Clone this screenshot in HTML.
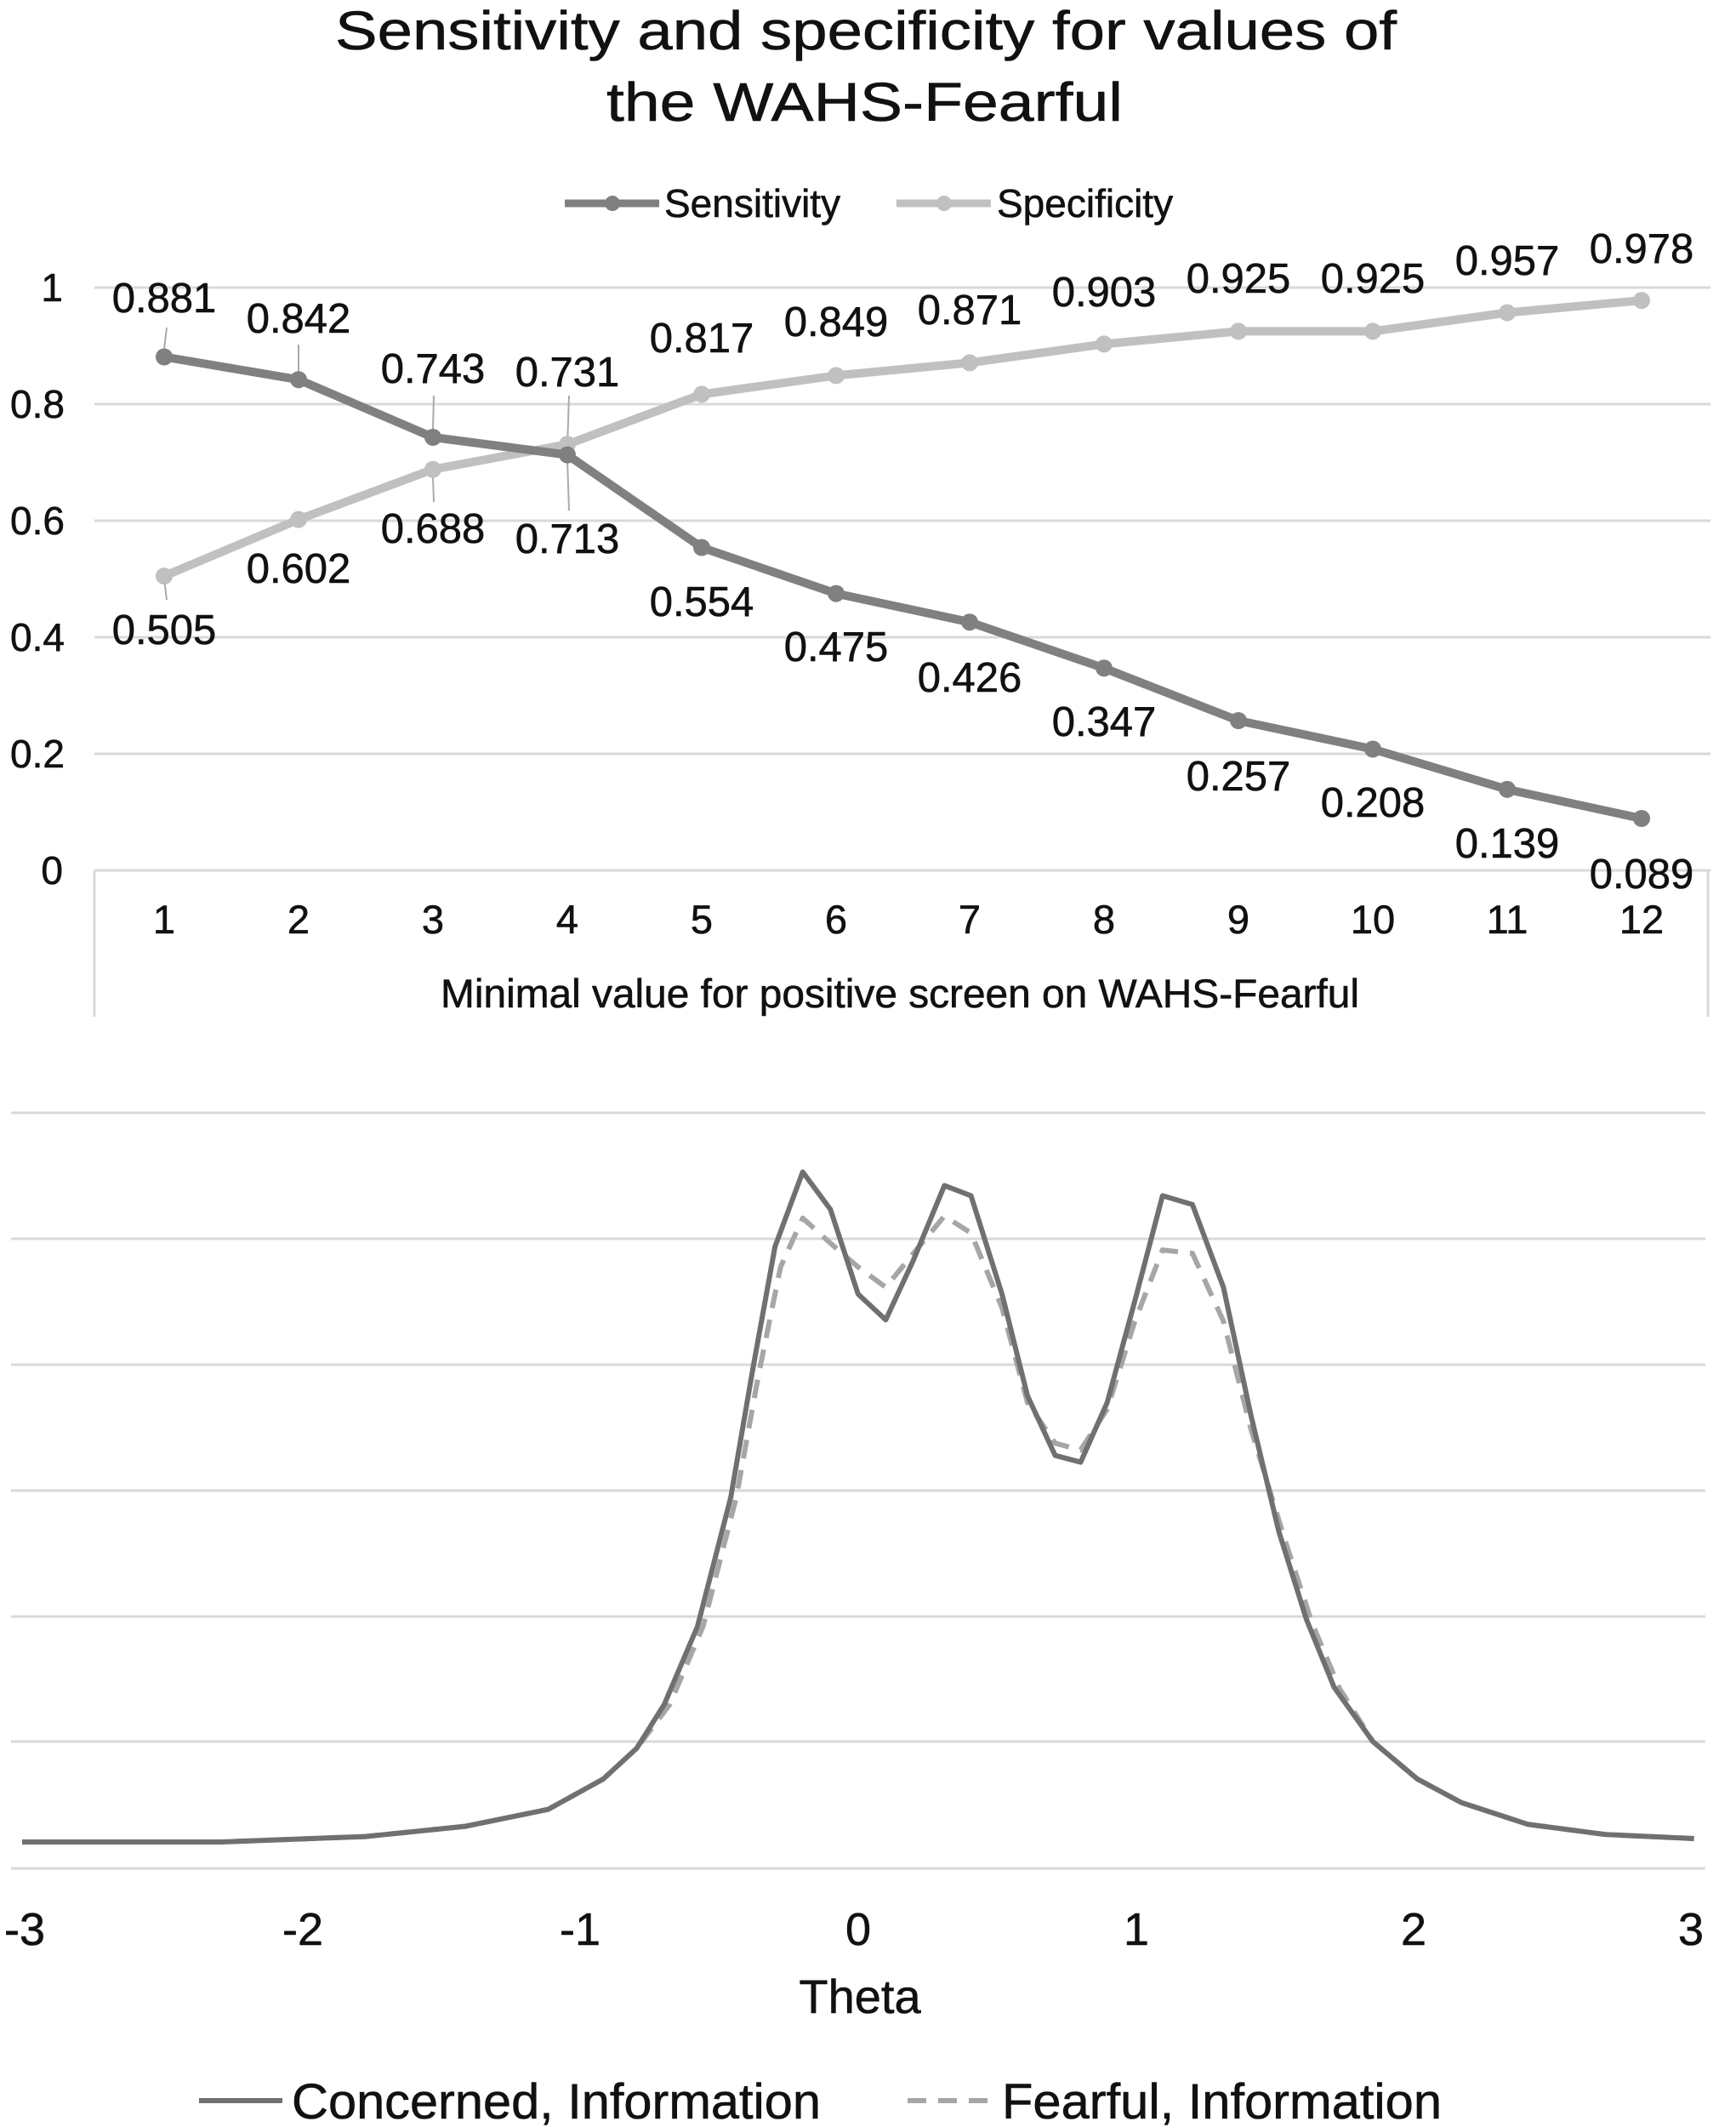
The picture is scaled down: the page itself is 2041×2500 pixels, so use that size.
<!DOCTYPE html>
<html><head><meta charset="utf-8"><style>
html,body{margin:0;padding:0;background:#fff}
svg{display:block}
text{font-family:"Liberation Sans",Arial,sans-serif;fill:#111;stroke:#111;stroke-width:0.6}
</style></head><body>
<svg width="2041" height="2500" viewBox="0 0 2041 2500" xmlns="http://www.w3.org/2000/svg">
<rect width="2041" height="2500" fill="#fff"/>
<text x="394" y="58" font-size="64" textLength="1248" lengthAdjust="spacingAndGlyphs">Sensitivity and specificity for values of</text>
<text x="713" y="142" font-size="64" textLength="607" lengthAdjust="spacingAndGlyphs">the WAHS-Fearful</text>
<line x1="664" y1="239" x2="775" y2="239" stroke="#808080" stroke-width="9"/>
<circle cx="720" cy="239" r="9" fill="#808080"/>
<text x="781" y="255" font-size="46">Sensitivity</text>
<line x1="1054" y1="239" x2="1165" y2="239" stroke="#c0c0c0" stroke-width="9"/>
<circle cx="1110" cy="239" r="9" fill="#c0c0c0"/>
<text x="1172" y="255" font-size="46">Specificity</text>
<g stroke="#d9d9d9" stroke-width="3">
<line x1="111" y1="338" x2="2011" y2="338"/>
<line x1="111" y1="475" x2="2011" y2="475"/>
<line x1="111" y1="612" x2="2011" y2="612"/>
<line x1="111" y1="749" x2="2011" y2="749"/>
<line x1="111" y1="886" x2="2011" y2="886"/>
<line x1="111" y1="1023" x2="2011" y2="1023"/>
<line x1="111" y1="1023" x2="111" y2="1195"/>
<line x1="2008" y1="1023" x2="2008" y2="1195"/>
</g>
<g font-size="46" text-anchor="end">
<text x="74" y="354">1</text><text x="76" y="491">0.8</text><text x="76" y="628">0.6</text>
<text x="76" y="765">0.4</text><text x="76" y="902">0.2</text><text x="74" y="1039">0</text>
</g>
<g font-size="47" text-anchor="middle">
<text x="193" y="1097">1</text><text x="351" y="1097">2</text><text x="509" y="1097">3</text><text x="667" y="1097">4</text>
<text x="825" y="1097">5</text><text x="983" y="1097">6</text><text x="1140" y="1097">7</text><text x="1298" y="1097">8</text>
<text x="1456" y="1097">9</text><text x="1614" y="1097">10</text><text x="1772" y="1097">11</text><text x="1930" y="1097">12</text>
</g>
<text x="518" y="1184" font-size="47" textLength="1080" lengthAdjust="spacingAndGlyphs">Minimal value for positive screen on WAHS-Fearful</text>
<g stroke="#aaa" stroke-width="2">
<line x1="196" y1="385" x2="193" y2="410"/><line x1="351" y1="405" x2="351" y2="438"/>
<line x1="510" y1="465" x2="509" y2="505"/><line x1="669" y1="465" x2="667" y2="525"/>
<line x1="196" y1="705" x2="193" y2="680"/><line x1="510" y1="590" x2="509" y2="560"/>
<line x1="669" y1="600" x2="667" y2="540"/>
</g>
<polyline fill="none" stroke="#c0c0c0" stroke-width="10" stroke-linejoin="round" points="193,677.1 351,610.6 509,551.7 667,522.3 825,463.4 983,441.4 1140,426.4 1298,404.4 1456,389.4 1614,389.4 1772,367.5 1930,353.1"/>
<g fill="#c0c0c0">
<circle cx="193" cy="677.1" r="10"/><circle cx="351" cy="610.6" r="10"/><circle cx="509" cy="551.7" r="10"/><circle cx="667" cy="522.3" r="10"/><circle cx="825" cy="463.4" r="10"/><circle cx="983" cy="441.4" r="10"/><circle cx="1140" cy="426.4" r="10"/><circle cx="1298" cy="404.4" r="10"/><circle cx="1456" cy="389.4" r="10"/><circle cx="1614" cy="389.4" r="10"/><circle cx="1772" cy="367.5" r="10"/><circle cx="1930" cy="353.1" r="10"/>
</g>
<polyline fill="none" stroke="#808080" stroke-width="10" stroke-linejoin="round" points="193,419.5 351,446.2 509,514 667,534.6 825,643.5 983,697.6 1140,731.2 1298,785.3 1456,847 1614,880.5 1772,927.8 1930,962"/>
<g fill="#808080">
<circle cx="193" cy="419.5" r="10"/><circle cx="351" cy="446.2" r="10"/><circle cx="509" cy="514" r="10"/><circle cx="667" cy="534.6" r="10"/><circle cx="825" cy="643.5" r="10"/><circle cx="983" cy="697.6" r="10"/><circle cx="1140" cy="731.2" r="10"/><circle cx="1298" cy="785.3" r="10"/><circle cx="1456" cy="847" r="10"/><circle cx="1614" cy="880.5" r="10"/><circle cx="1772" cy="927.8" r="10"/><circle cx="1930" cy="962" r="10"/>
</g>
<g font-size="49" text-anchor="middle" dominant-baseline="central">
<text x="193" y="351">0.881</text><text x="351" y="375">0.842</text><text x="509" y="434">0.743</text><text x="667" y="634">0.713</text>
<text x="825" y="708">0.554</text><text x="983" y="761">0.475</text><text x="1140" y="797">0.426</text><text x="1298" y="849">0.347</text>
<text x="1456" y="913">0.257</text><text x="1614" y="944">0.208</text><text x="1772" y="992">0.139</text><text x="1930" y="1028">0.089</text>
<text x="193" y="741">0.505</text><text x="351" y="669">0.602</text><text x="509" y="622">0.688</text><text x="667" y="438">0.731</text>
<text x="825" y="398">0.817</text><text x="983" y="379">0.849</text><text x="1140" y="365">0.871</text><text x="1298" y="344">0.903</text>
<text x="1456" y="328">0.925</text><text x="1614" y="328">0.925</text><text x="1772" y="307">0.957</text><text x="1930" y="293">0.978</text>
</g>
<g stroke="#d9d9d9" stroke-width="3">
<line x1="13" y1="1308" x2="2005" y2="1308"/><line x1="13" y1="1456" x2="2005" y2="1456"/>
<line x1="13" y1="1604" x2="2005" y2="1604"/><line x1="13" y1="1752" x2="2005" y2="1752"/>
<line x1="13" y1="1900" x2="2005" y2="1900"/><line x1="13" y1="2047" x2="2005" y2="2047"/>
<line x1="13" y1="2196" x2="2005" y2="2196"/>
</g>
<g transform="matrix(1.3017,0,0,0.797,0,1250)" fill="none" stroke-linejoin="round">
<polyline vector-effect="non-scaling-stroke" stroke="#a6a6a6" stroke-width="6" stroke-dasharray="22 14" points="20,1148 200,1148 330,1140 420,1125 495,1100 545,1055 575,1010 605,945 635,830 665,640 685,460 705,300 725,228 750,265 775,300 800,330 825,280 853,225 877,250 905,360 928,500 953,560 976,570 1000,510 1025,380 1050,275 1077,280 1105,380 1130,540 1160,700 1185,825 1210,922 1240,1000 1280,1055 1320,1090 1380,1122 1450,1137 1530,1143"/>
<polyline vector-effect="non-scaling-stroke" stroke="#707070" stroke-width="6" points="20,1148 200,1148 330,1140 420,1125 495,1100 545,1055 575,1010 600,945 630,830 660,640 680,450 700,270 725,160 750,215 775,340 800,378 825,290 853,180 877,195 905,340 928,490 953,578 976,588 1000,500 1025,350 1050,195 1077,208 1105,330 1130,520 1155,690 1180,820 1205,920 1240,1000 1280,1055 1320,1090 1380,1122 1450,1137 1530,1143"/>
</g>
<g font-size="54" text-anchor="middle">
<text x="29" y="2286">-3</text><text x="356" y="2286">-2</text><text x="682" y="2286">-1</text><text x="1009" y="2286">0</text>
<text x="1336" y="2286">1</text><text x="1662" y="2286">2</text><text x="1988" y="2286">3</text>
<text x="1011" y="2366" font-size="56">Theta</text>
</g>
<line x1="234" y1="2469" x2="332" y2="2469" stroke="#707070" stroke-width="6"/>
<text x="343" y="2490" font-size="58" textLength="622" lengthAdjust="spacingAndGlyphs">Concerned, Information</text>
<line x1="1067" y1="2469" x2="1165" y2="2469" stroke="#a6a6a6" stroke-width="6" stroke-dasharray="22 14"/>
<text x="1178" y="2490" font-size="58" textLength="517" lengthAdjust="spacingAndGlyphs">Fearful, Information</text>
</svg>
</body></html>
